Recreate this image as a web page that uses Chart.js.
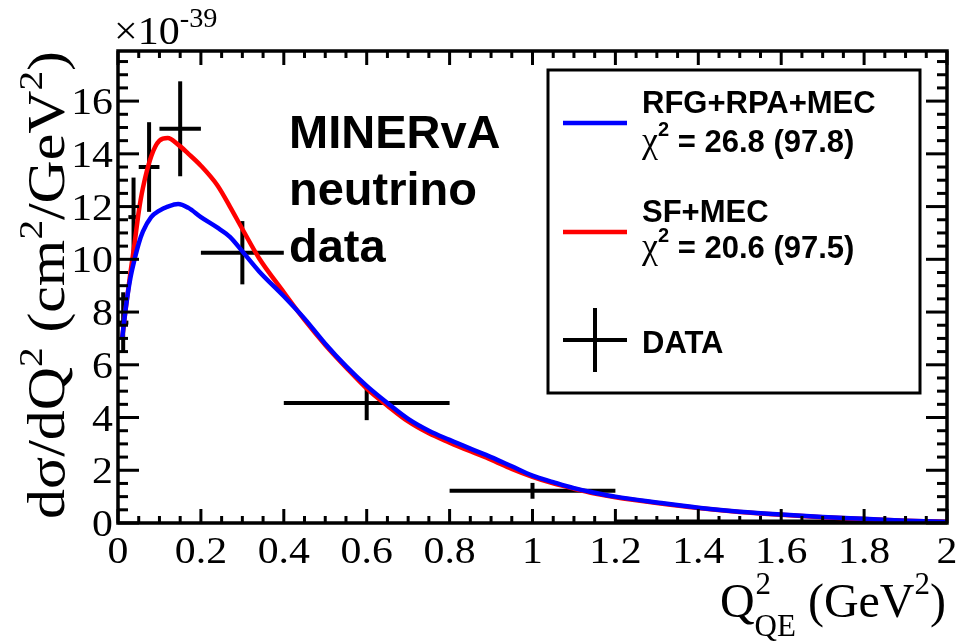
<!DOCTYPE html>
<html>
<head>
<meta charset="utf-8">
<script src="https://cdn.jsdelivr.net/npm/chart.js@4.4.1/dist/chart.umd.min.js"></script>
<style>
  html, body { margin: 0; padding: 0; background: #fff; }
  canvas { display: block; }
</style>
</head>
<body>
<canvas id="chart" width="963" height="642"></canvas>
<script>
// Q^2_QE grid (GeV^2) used for both model curves
const modelQ2 = [0.01, 0.02, 0.03, 0.04, 0.05, 0.06, 0.08, 0.1, 0.12, 0.145, 0.17, 0.2, 0.24, 0.27, 0.3,
  0.34, 0.4, 0.45, 0.5, 0.55, 0.6, 0.65, 0.7, 0.75, 0.8, 0.85, 0.9, 0.95, 1.0, 1.05, 1.1, 1.15, 1.2,
  1.3, 1.4, 1.5, 1.6, 1.7, 1.8, 1.9, 2.0];
// dsigma/dQ2 in units of 1e-39 cm^2/GeV^2
const rfgRpaMec = [7.0, 8.3, 9.3, 10.0, 10.6, 11.05, 11.6, 11.85, 12.0, 12.1, 11.95, 11.6, 11.2, 10.85, 10.3,
  9.55, 8.6, 7.75, 6.8, 5.95, 5.2, 4.55, 3.95, 3.5, 3.15, 2.82, 2.5, 2.15, 1.8, 1.55, 1.32, 1.15, 1.0,
  0.78, 0.58, 0.43, 0.32, 0.23, 0.16, 0.09, 0.04];
const sfMec = [7.0, 8.3, 9.5, 10.6, 11.8, 12.7, 13.9, 14.5, 14.6, 14.35, 14.0, 13.55, 12.8, 12.0, 11.15,
  10.05, 8.75, 7.7, 6.75, 5.9, 5.1, 4.45, 3.85, 3.4, 3.05, 2.72, 2.4, 2.05, 1.75, 1.5, 1.3, 1.12, 0.98,
  0.76, 0.57, 0.42, 0.31, 0.22, 0.15, 0.09, 0.04];

// MINERvA points: bin centre, bin edges, value and error
const dataQ2 = [0.0125, 0.0375, 0.075, 0.15, 0.3, 0.6, 1.0, 1.6];
const dataLow = [0, 0.025, 0.05, 0.1, 0.2, 0.4, 0.8, 1.2];
const dataHigh = [0.025, 0.05, 0.1, 0.2, 0.4, 0.8, 1.2, 2.0];
const dataXsec = [7.6, 11.6, 13.5, 14.95, 10.25, 4.55, 1.22, 0.06];
const dataErr = [1.15, 1.5, 1.7, 1.8, 1.2, 0.65, 0.3, 0.04];

const xTickValues = [0, 0.2, 0.4, 0.6, 0.8, 1.0, 1.2, 1.4, 1.6, 1.8, 2.0];
const yTickValues = [0, 2, 4, 6, 8, 10, 12, 14, 16];
const xMinorStep = 0.05;
const yMinorStep = 0.5;

const SERIF = "'Liberation Serif', 'Times New Roman', serif";
const SANS = "'Liberation Sans', Arial, sans-serif";

function drawRich(ctx, parts, x, y, align, sx) {
  sx = sx || 1;
  let w = 0;
  parts.forEach(p => { ctx.font = p.font; p.w = ctx.measureText(p.t).width; w += p.w; });
  let cx = align === 'right' ? -w : align === 'center' ? -w / 2 : 0;
  ctx.save();
  ctx.translate(x, y);
  ctx.scale(sx, 1);
  ctx.textAlign = 'left';
  ctx.textBaseline = 'alphabetic';
  parts.forEach(p => { ctx.font = p.font; ctx.fillText(p.t, cx, p.dy || 0); cx += p.w; });
  ctx.restore();
}

function line(ctx, x1, y1, x2, y2) {
  ctx.beginPath();
  ctx.moveTo(x1, y1);
  ctx.lineTo(x2, y2);
  ctx.stroke();
}

const rootFrame = {
  id: 'rootFrame',
  beforeDatasetsDraw(chart) {
    const ctx = chart.ctx, xs = chart.scales.x, ys = chart.scales.y;
    ctx.save();
    ctx.strokeStyle = '#000';
    ctx.lineWidth = 4;
    ctx.lineCap = 'butt';
    for (let i = 0; i < dataQ2.length; i++) {
      const y = ys.getPixelForValue(dataXsec[i]);
      const x = xs.getPixelForValue(dataQ2[i]);
      line(ctx, xs.getPixelForValue(dataLow[i]), y, xs.getPixelForValue(dataHigh[i]), y);
      line(ctx, x, ys.getPixelForValue(dataXsec[i] - dataErr[i]), x, ys.getPixelForValue(dataXsec[i] + dataErr[i]));
    }
    ctx.restore();
  },
  afterDraw(chart) {
    const ctx = chart.ctx, xs = chart.scales.x, ys = chart.scales.y;
    const a = chart.chartArea;
    ctx.save();
    ctx.strokeStyle = '#000';
    ctx.fillStyle = '#000';
    ctx.lineWidth = 3;

    // ticks on all four sides, pointing inward
    for (let v = 0; v <= xs.max + 1e-9; v += xMinorStep) {
      const major = xTickValues.some(t => Math.abs(t - v) < 1e-6);
      const px = xs.getPixelForValue(v);
      const len = major ? 14 : 7;
      line(ctx, px, a.bottom, px, a.bottom - len);
      line(ctx, px, a.top, px, a.top + len);
    }
    for (let v = 0; v <= ys.max + 1e-9; v += yMinorStep) {
      const major = yTickValues.some(t => Math.abs(t - v) < 1e-6);
      const py = ys.getPixelForValue(v);
      const len = major ? 21 : 10;
      line(ctx, a.left, py, a.left + len, py);
      line(ctx, a.right, py, a.right - len, py);
    }
    ctx.lineWidth = 3.5;
    ctx.strokeRect(a.left, a.top, a.right - a.left, a.bottom - a.top);

    // tick labels
    const tickFont = '38px ' + SERIF;
    xTickValues.forEach(v => {
      drawRich(ctx, [{ t: String(Number(v.toFixed(1))), font: tickFont }], xs.getPixelForValue(v), 563, 'center', 1.1);
    });
    yTickValues.forEach(v => {
      drawRich(ctx, [{ t: String(v), font: tickFont }], a.left - 5, ys.getPixelForValue(v) + 13, 'right', 1.1);
    });

    // exponent above the y axis
    drawRich(ctx, [
      { t: '\u00d710', font: '40px ' + SERIF },
      { t: '-39', font: '27px ' + SERIF, dy: -17 }
    ], 114, 44, 'left', 1.05);

    // y axis title
    ctx.save();
    ctx.translate(64, 285);
    ctx.rotate(-Math.PI / 2);
    const tf = '52px ' + SERIF, sf = '34px ' + SERIF;
    drawRich(ctx, [
      { t: 'd\u03c3/dQ', font: tf },
      { t: '2', font: sf, dy: -22 },
      { t: ' (cm', font: tf },
      { t: '2', font: sf, dy: -22 },
      { t: '/GeV', font: tf },
      { t: '2', font: sf, dy: -22 },
      { t: ')', font: tf }
    ], 0, 0, 'center', 1.15);
    ctx.restore();

    // x axis title: Q^2_QE (GeV^2)
    const xf = '48px ' + SERIF, xsf = '31px ' + SERIF;
    ctx.font = xf;
    const qW = ctx.measureText('Q').width;
    const restW = ctx.measureText(' (GeV').width;
    const parW = ctx.measureText(')').width;
    ctx.font = xsf;
    const supW = ctx.measureText('2').width;
    const subW = ctx.measureText('QE').width;
    const total = qW + Math.max(supW, subW) + restW + supW + parW;
    let x0 = 946 - total;
    const base = 617;
    ctx.textAlign = 'left';
    ctx.textBaseline = 'alphabetic';
    ctx.font = xf; ctx.fillText('Q', x0, base);
    ctx.font = xsf; ctx.fillText('2', x0 + qW + 1, base - 23); ctx.fillText('QE', x0 + qW, base + 19);
    x0 += qW + Math.max(supW, subW);
    ctx.font = xf; ctx.fillText(' (GeV', x0, base); x0 += restW;
    ctx.font = xsf; ctx.fillText('2', x0, base - 23); x0 += supW;
    ctx.font = xf; ctx.fillText(')', x0, base);

    // experiment label
    ctx.font = 'bold 47px ' + SANS;
    ctx.fillText('MINERvA', 289, 148);
    ctx.fillText('neutrino', 289, 205);
    ctx.fillText('data', 289, 262);

    // legend
    ctx.lineWidth = 3;
    ctx.fillStyle = '#fff';
    ctx.fillRect(548, 70, 372, 323);
    ctx.strokeRect(548, 70, 372, 323);
    ctx.fillStyle = '#000';
    ctx.lineWidth = 4.5;
    ctx.strokeStyle = '#0000ff';
    line(ctx, 563, 123, 627, 123);
    ctx.strokeStyle = '#ff0000';
    line(ctx, 563, 232, 627, 232);
    ctx.strokeStyle = '#000';
    ctx.lineWidth = 4;
    line(ctx, 563, 340, 627, 340);
    line(ctx, 595, 308, 595, 372);

    const lf = 'bold 31px ' + SANS, chiF = '36px ' + SERIF, supF = 'bold 20px ' + SANS;
    drawRich(ctx, [{ t: 'RFG+RPA+MEC', font: lf }], 642, 113, 'left');
    drawRich(ctx, [
      { t: '\u03c7', font: chiF },
      { t: '2', font: supF, dy: -16 },
      { t: ' = 26.8 (97.8)', font: lf }
    ], 642, 152, 'left');
    drawRich(ctx, [{ t: 'SF+MEC', font: lf }], 642, 222, 'left');
    drawRich(ctx, [
      { t: '\u03c7', font: chiF },
      { t: '2', font: supF, dy: -16 },
      { t: ' = 20.6 (97.5)', font: lf }
    ], 642, 258, 'left');
    drawRich(ctx, [{ t: 'DATA', font: lf }], 642, 353, 'left');

    ctx.restore();
  }
};

const chart = new Chart(document.getElementById('chart'), {
  type: 'line',
  data: {
    datasets: [
      {
        label: 'RFG+RPA+MEC',
        data: modelQ2.map((q, i) => ({ x: q, y: rfgRpaMec[i] })),
        borderColor: '#0000ff',
        borderWidth: 4.5,
        pointRadius: 0,
        cubicInterpolationMode: 'monotone',
        fill: false
      },
      {
        label: 'SF+MEC',
        data: modelQ2.map((q, i) => ({ x: q, y: sfMec[i] })),
        borderColor: '#ff0000',
        borderWidth: 4.5,
        pointRadius: 0,
        cubicInterpolationMode: 'monotone',
        fill: false
      }
    ]
  },
  options: {
    responsive: false,
    devicePixelRatio: 1,
    animation: false,
    layout: { padding: { left: 0, right: 16, top: 51, bottom: 0 } },
    plugins: { legend: { display: false }, tooltip: { enabled: false } },
    scales: {
      x: {
        type: 'linear', min: 0, max: 2,
        grid: { display: false }, border: { display: false }, ticks: { display: false },
        afterFit(s) { s.height = 119; }
      },
      y: {
        type: 'linear', min: 0, max: 17.9,
        grid: { display: false }, border: { display: false }, ticks: { display: false },
        afterFit(s) { s.width = 118; }
      }
    }
  },
  plugins: [rootFrame]
});
</script>
</body>
</html>
